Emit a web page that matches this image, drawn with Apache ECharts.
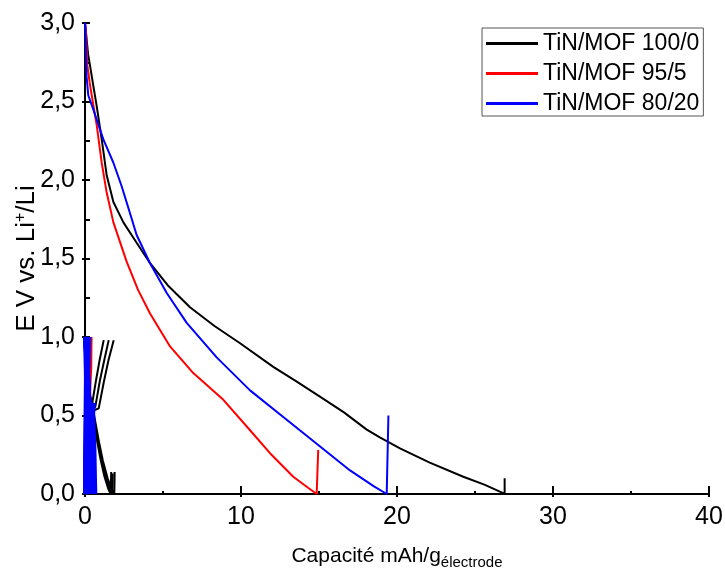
<!DOCTYPE html>
<html>
<head>
<meta charset="utf-8">
<script src="https://cdn.jsdelivr.net/npm/echarts@6/dist/echarts.min.js"></script>
<style>html,body{margin:0;padding:0;background:#fff}#c{width:725px;height:569px}</style>
</head>
<body>
<div id="c"></div>
<script>
// ---- data ----
const seriesNames = ['TiN/MOF 100/0', 'TiN/MOF 95/5', 'TiN/MOF 80/20'];
const seriesColors = ['#000000', '#ff0000', '#0000ff'];
const xTicks = [0, 10, 20, 30, 40];
const yTicks = [0, 0.5, 1.0, 1.5, 2.0, 2.5, 3.0];

// TiN/MOF 100/0 (black) first discharge
const black_cap = [0, 0.05, 0.1, 0.2, 0.32, 0.5, 0.75, 1.07, 1.39, 1.82, 2.46, 3.31, 4.17, 5.3, 6.73, 8.3, 9.94, 12.07, 13.5, 15.06, 16.6, 18.06, 18.9, 20.19, 22.1, 24.25, 25.6, 26.7, 26.9, 26.9];
const black_E   = [3.0, 2.95, 2.9, 2.8, 2.73, 2.62, 2.47, 2.26, 2.03, 1.86, 1.73, 1.60, 1.47, 1.33, 1.19, 1.07, 0.96, 0.81, 0.72, 0.62, 0.52, 0.41, 0.36, 0.29, 0.20, 0.11, 0.06, 0.01, 0.0, 0.10];
// black later cycles (discharge / charge)
const black_d1_cap = [0, 0.08, 0.2, 0.4, 0.55, 0.77, 1.0, 1.25, 1.5, 1.65, 1.68, 1.68];
const black_d1_E   = [1.0, 0.85, 0.68, 0.57, 0.48, 0.34, 0.22, 0.11, 0.03, 0.0, 0.0, 0.14];
const black_d2_cap = [0, 0.08, 0.22, 0.45, 0.6, 0.82, 1.05, 1.35, 1.6, 1.76, 1.78, 1.78];
const black_d2_E   = [1.0, 0.85, 0.67, 0.56, 0.47, 0.34, 0.22, 0.1, 0.03, 0.0, 0.0, 0.13];
const black_d3_cap = [0, 0.09, 0.25, 0.5, 0.66, 0.9, 1.15, 1.45, 1.72, 1.88, 1.9, 1.9];
const black_d3_E   = [1.0, 0.84, 0.66, 0.55, 0.46, 0.33, 0.21, 0.1, 0.03, 0.0, 0.0, 0.14];
const black_c1_cap = [0, 0.03, 0.12, 0.3, 0.45, 0.7, 0.95, 1.2];
const black_c1_E   = [0, 0.25, 0.45, 0.54, 0.57, 0.72, 0.86, 0.98];
const black_c2_cap = [0, 0.04, 0.15, 0.4, 0.66, 0.95, 1.25, 1.52];
const black_c2_E   = [0, 0.25, 0.45, 0.53, 0.555, 0.72, 0.86, 0.98];
const black_c3_cap = [0, 0.05, 0.18, 0.5, 0.88, 1.2, 1.5, 1.84];
const black_c3_E   = [0, 0.25, 0.45, 0.53, 0.545, 0.71, 0.85, 0.98];

// TiN/MOF 95/5 (red) first discharge
const red_cap = [0, 0.06, 0.15, 0.3, 0.43, 0.75, 1.07, 1.39, 1.82, 2.67, 3.4, 4.17, 5.45, 6.94, 8.87, 10.37, 11.86, 13.35, 14.3, 14.85, 14.95, 14.95];
const red_E   = [3.0, 2.95, 2.73, 2.62, 2.54, 2.35, 2.11, 1.92, 1.73, 1.48, 1.3, 1.15, 0.94, 0.77, 0.60, 0.43, 0.26, 0.11, 0.04, 0.0, 0.0, 0.28];
const red_d1_cap = [0, 0.2, 0.32, 0.34, 0.45, 0.5, 0.52];
const red_d1_E   = [1.0, 0.97, 0.9, 0.6, 0.4, 0.1, 0.0];
const red_c1_cap = [0, 0.05, 0.2, 0.3, 0.4, 0.42];
const red_c1_E   = [0, 0.3, 0.55, 0.62, 0.8, 1.0];

// TiN/MOF 80/20 (blue) first discharge
const blue_cap = [0, 0.03, 0.06, 0.1, 0.21, 0.53, 1.17, 1.82, 2.35, 2.88, 3.31, 4.17, 5.24, 6.52, 8.44, 10.58, 12.71, 14.85, 16.99, 18.5, 19.34, 19.45, 19.45];
const blue_E   = [3.0, 2.96, 2.8, 2.66, 2.54, 2.45, 2.26, 2.11, 1.96, 1.79, 1.65, 1.47, 1.28, 1.09, 0.87, 0.66, 0.49, 0.32, 0.15, 0.05, 0.0, 0.0, 0.50];
// blue later cycles
const blue_d1_cap = [0, 0.1, 0.2, 0.25, 0.3, 0.32, 0.34, 0.35];
const blue_d1_E   = [1.0, 0.92, 0.75, 0.62, 0.5, 0.3, 0.1, 0.0];
const blue_d2_cap = [0, 0.1, 0.2, 0.26, 0.38, 0.43, 0.46, 0.47];
const blue_d2_E   = [1.0, 0.92, 0.75, 0.61, 0.5, 0.3, 0.1, 0.0];
const blue_d3_cap = [0, 0.1, 0.21, 0.27, 0.45, 0.53, 0.56, 0.57];
const blue_d3_E   = [1.0, 0.91, 0.74, 0.6, 0.5, 0.3, 0.1, 0.0];
const blue_d4_cap = [0, 0.1, 0.22, 0.28, 0.52, 0.6, 0.64, 0.66];
const blue_d4_E   = [1.0, 0.9, 0.73, 0.59, 0.5, 0.3, 0.1, 0.0];
const blue_d5_cap = [0, 0.05, 0.1, 0.14, 0.16, 0.18];
const blue_d5_E   = [1.0, 0.8, 0.6, 0.4, 0.2, 0.0];
const blue_d6_cap = [0, 0.12, 0.2, 0.24, 0.26, 0.27];
const blue_d6_E   = [1.0, 0.8, 0.6, 0.4, 0.2, 0.0];
const blue_d7_cap = [0, 0.15, 0.26, 0.33, 0.4, 0.42];
const blue_d7_E   = [1.0, 0.8, 0.6, 0.4, 0.2, 0.0];
const blue_d8_cap = [0, 0.16, 0.27, 0.45, 0.5, 0.52];
const blue_d8_E   = [1.0, 0.8, 0.6, 0.4, 0.2, 0.0];
const blue_c1_cap = [0, 0.02, 0.05, 0.1, 0.15, 0.2, 0.22];
const blue_c1_E   = [0, 0.2, 0.45, 0.6, 0.75, 0.9, 1.0];
const blue_c2_cap = [0, 0.04, 0.08, 0.14, 0.2, 0.25, 0.27];
const blue_c2_E   = [0, 0.2, 0.45, 0.6, 0.75, 0.9, 1.0];
const blue_c3_cap = [0, 0.1, 0.2, 0.3, 0.4, 0.5, 0.6];
const blue_c3_E   = [0, 0.05, 0.15, 0.3, 0.45, 0.55, 0.58];
const blue_c4_cap = [0, 0.01, 0.03, 0.05, 0.07, 0.09];
const blue_c4_E   = [0, 0.2, 0.45, 0.65, 0.85, 1.0];
const blue_c5_cap = [0, 0.2, 0.33, 0.42, 0.5, 0.55];
const blue_c5_E   = [0, 0.03, 0.15, 0.3, 0.45, 0.57];
const blue_c6_cap = [0, 0.03, 0.08, 0.11, 0.13, 0.15];
const blue_c6_E   = [0, 0.2, 0.45, 0.65, 0.85, 1.0];

// ---- build ----
function zip(a, b) { return a.map((v, i) => [v, b[i]]); }
const groups = [
  [zip(black_cap, black_E), zip(black_d1_cap, black_d1_E), zip(black_d2_cap, black_d2_E), zip(black_d3_cap, black_d3_E),
   zip(black_c1_cap, black_c1_E), zip(black_c2_cap, black_c2_E), zip(black_c3_cap, black_c3_E)],
  [zip(red_cap, red_E), zip(red_d1_cap, red_d1_E), zip(red_c1_cap, red_c1_E)],
  [zip(blue_cap, blue_E), zip(blue_d1_cap, blue_d1_E), zip(blue_d2_cap, blue_d2_E), zip(blue_d3_cap, blue_d3_E), zip(blue_d4_cap, blue_d4_E),
   zip(blue_d5_cap, blue_d5_E), zip(blue_d6_cap, blue_d6_E), zip(blue_d7_cap, blue_d7_E), zip(blue_d8_cap, blue_d8_E),
   zip(blue_c1_cap, blue_c1_E), zip(blue_c2_cap, blue_c2_E), zip(blue_c3_cap, blue_c3_E), zip(blue_c4_cap, blue_c4_E),
   zip(blue_c5_cap, blue_c5_E), zip(blue_c6_cap, blue_c6_E)]
];
const series = [];
groups.forEach((g, gi) => {
  g.forEach((d, k) => {
    series.push({
      name: seriesNames[gi], type: 'line', data: d, showSymbol: false, symbol: 'none',
      lineStyle: { color: seriesColors[gi], width: (gi === 2 && k > 0) ? 4 : 2 }, itemStyle: { color: seriesColors[gi] },
      silent: true, animation: false, z: 2 + gi
    });
  });
});

const FF = 'Arial, "Liberation Sans", sans-serif';
const fmtY = v => v.toFixed(1).replace('.', ',');
const chart = echarts.init(document.getElementById('c'), null, { renderer: 'canvas' });
chart.setOption({
  backgroundColor: '#fff',
  animation: false,
  grid: { left: 85, right: 16, top: 23, bottom: 75, containLabel: false, outerBoundsMode: 'none' },
  legend: {
    data: seriesNames, orient: 'vertical', left: 482, top: 28,
    itemWidth: 52, itemHeight: 3, itemGap: 7, icon: 'rect',
    borderColor: '#555', borderWidth: 1, padding: [4, 4, 1, 4],
    textStyle: { fontFamily: FF, fontSize: 23, color: '#000' },
    selectedMode: false
  },
  xAxis: [{
    type: 'value', min: xTicks[0], max: xTicks[xTicks.length - 1], interval: 10,
    axisLine: { lineStyle: { color: '#000', width: 2 } },
    axisTick: { inside: true, length: 8, lineStyle: { color: '#000', width: 2 } },
    minorTick: { show: true, splitNumber: 2, length: 3, lineStyle: { color: '#000', width: 2 } },
    splitLine: { show: false },
    axisLabel: { fontFamily: FF, fontSize: 25, color: '#000', margin: 11 },
    name: 'Capacité mAh/g{sub|électrode}', nameLocation: 'middle', nameGap: 49, nameMoveOverlap: false,
    nameTextStyle: { fontFamily: FF, fontSize: 21, color: '#000',
      rich: { sub: { fontFamily: FF, fontSize: 15, color: '#000', padding: [12, 0, 0, 0] } } }
  }, {
    type: 'value', position: 'top', min: xTicks[0], max: xTicks[xTicks.length - 1], interval: 10,
    axisLine: { show: true, lineStyle: { color: '#000', width: 2 } },
    axisTick: { inside: true, length: 3, lineStyle: { color: '#000', width: 2 } },
    axisLabel: { show: false }, splitLine: { show: false }
  }],
  yAxis: [{
    type: 'value', min: yTicks[0], max: yTicks[yTicks.length - 1], interval: 0.5,
    axisLine: { show: true, lineStyle: { color: '#000', width: 2 } },
    axisTick: { inside: true, length: 5, lineStyle: { color: '#000', width: 2 } },
    minorTick: { show: true, splitNumber: 2, length: 5, lineStyle: { color: '#000', width: 2 } },
    splitLine: { show: false },
    axisLabel: { fontFamily: FF, fontSize: 25, color: '#000', margin: 10, formatter: fmtY },
    name: 'E V vs. Li{sup|+}/Li', nameLocation: 'middle', nameGap: 44, nameRotate: 90, nameMoveOverlap: false,
    nameTextStyle: { fontFamily: FF, fontSize: 26, color: '#000',
      rich: { sup: { fontFamily: FF, fontSize: 16, color: '#000', padding: [0, 0, 12, 0] } } }
  }, {
    type: 'value', position: 'right', min: yTicks[0], max: yTicks[yTicks.length - 1], interval: 0.5,
    axisLine: { show: true, lineStyle: { color: '#000', width: 2 } },
    axisTick: { inside: true, length: 3, lineStyle: { color: '#000', width: 2 } },
    axisLabel: { show: false }, splitLine: { show: false }
  }],
  series: series
});
</script>
</body>
</html>
